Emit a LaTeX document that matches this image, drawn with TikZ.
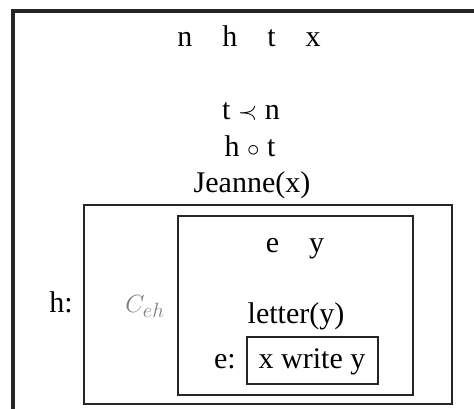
\documentclass[tikz,border=0pt]{standalone}
\usepackage{fontspec}
\setmainfont{Liberation Serif}
\begin{document}
\begin{tikzpicture}[x=1pt,y=-1pt,
  box/.style={draw=black!85,line width=2.8pt},
  txt/.style={anchor=base,inner sep=0pt,font=\fontsize{30}{35}\selectfont}]
\useasboundingbox (0,0) rectangle (474,409);
\clip (0,0) rectangle (474,409);
\fill[white] (0,0) rectangle (474,409);
\draw[box,line width=3.2pt] (13,11) rectangle (490,425);
\node[txt] (vars) at (249,47) {n\quad h\quad t\quad x};
\node[txt] (c1) at (251,120) {t $\prec$ n};
\node[txt] (c2) at (250,157) {h $\circ$ t};
\node[txt] (c3) at (252,193) {Jeanne(x)};
\draw[box] (84,205) rectangle (452,404);
\node[txt] (hl) at (61,312) {h:};
\node[txt,text=black!50] (ceh) at (145,312) {$C_{eh}$};
\draw[box] (178,216) rectangle (413,395);
\node[txt] (ey) at (295,252) {e\quad y};
\node[txt] (let) at (296,323) {letter(y)};
\node[txt] (el) at (225,368) {e:};
\draw[box] (247,337) rectangle (378,384);
\node[txt] (wr) at (312,368) {x write y};
\end{tikzpicture}
\end{document}
